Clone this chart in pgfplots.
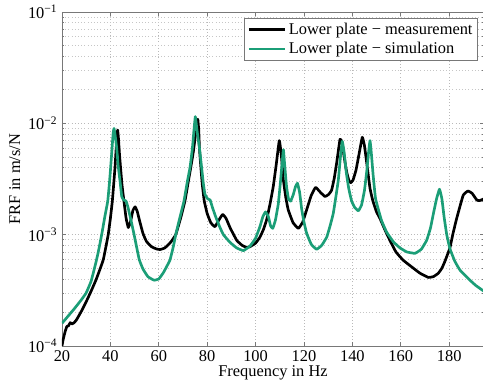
\documentclass[border=0pt]{standalone}
\usepackage{fontspec}
\setmainfont{Liberation Serif}
\usepackage{pgfplots}
\pgfplotsset{compat=1.18}
\definecolor{simgreen}{RGB}{27,158,119}
\definecolor{axgray}{RGB}{120,120,120}
\begin{document}
\begin{tikzpicture}[font=\fontsize{12.3}{14}\selectfont]
\begin{axis}[
  scale only axis,
  width=316.5pt, height=250.5pt,
  xmin=20, xmax=194.4,
  ymode=log, ymin=1e-4, ymax=1e-1,
  xtick={20,40,...,180},
  ytick={1e-4,1e-3,1e-2,1e-1},
  yticklabels={10\textsuperscript{−4},10\textsuperscript{−3},10\textsuperscript{−2},10\textsuperscript{−1}},
  minor ytick={2e-4,3e-4,4e-4,5e-4,6e-4,7e-4,8e-4,9e-4,2e-3,3e-3,4e-3,5e-3,6e-3,7e-3,8e-3,9e-3,2e-2,3e-2,4e-2,5e-2,6e-2,7e-2,8e-2,9e-2},
  /pgf/number format/assume math mode=true,
  grid=both,
  major grid style={dotted, line width=0.5pt, gray!55},
  minor grid style={dotted, line width=0.5pt, gray!45},
  tick align=inside,
  major tick length=3pt, minor tick length=1.5pt,
  axis line style={axgray, line width=0.7pt},
  every tick/.style={axgray, line width=0.5pt},
  xlabel={Frequency in Hz},
  ylabel={FRF in m/s/N},
  xlabel style={yshift=4pt},
  ylabel style={yshift=-1pt},
  legend style={at={(1,1)}, anchor=north east, draw=axgray, line width=0.6pt, fill=white, inner xsep=2pt, inner ysep=1.5pt, row sep=0.5pt, xshift=-4.3pt, yshift=-4.5pt, font=\fontsize{12.3}{14}\selectfont},
  legend cell align=left,
  legend image code/.code={\draw[#1, line width=2pt] (0cm,0cm) -- (0.95cm,0cm);},
]
\addplot[black, line width=2pt, line join=round, smooth, tension=0.2] coordinates {
(20,1.0e-4) (20.5,1.15e-4) (21.3,1.35e-4) (22,1.5e-4) (22.7,1.52e-4) (23.4,1.62e-4) (24.2,1.58e-4)
(25,1.62e-4) (26,1.72e-4) (28,2.05e-4) (30,2.5e-4) (32,3.1e-4) (34,3.9e-4) (36,5.1e-4)
(37.1,6.0e-4) (38,7.5e-4) (39.1,1.0e-3) (40,1.4e-3) (40.8,2.0e-3) (41.4,2.9e-3) (41.9,4.0e-3)
(42.4,6.0e-3) (42.75,8.0e-3) (43.0,8.7e-3) (43.3,7.5e-3) (43.7,5.5e-3) (44.2,4.0e-3)
(44.8,2.8e-3) (45.6,2.0e-3) (46.5,1.4e-3) (47.4,1.16e-3) (48.3,1.3e-3) (49.3,1.65e-3)
(50.2,1.78e-3) (51.1,1.62e-3) (52.2,1.3e-3) (53.5,1.02e-3) (54.9,8.7e-4) (57,7.8e-4)
(59,7.45e-4) (60.5,7.35e-4) (62.5,7.6e-4) (65,8.6e-4) (67,1.0e-3) (69,1.4e-3) (70.8,2.0e-3)
(72.2,3.0e-3) (73.2,4.0e-3) (74.3,5.6e-3) (75.2,8.0e-3) (76.1,1.09e-2) (76.5,8.7e-3)
(76.8,6.0e-3) (77.4,4.0e-3) (78.0,2.8e-3) (78.8,2.0e-3) (80,1.55e-3) (81.5,1.28e-3)
(83.2,1.18e-3) (84.8,1.35e-3) (86.4,1.52e-3) (87.8,1.4e-3) (89.5,1.15e-3) (92.2,8.9e-4)
(94.5,8.0e-4) (96.3,7.7e-4) (97.7,7.8e-4) (100,8.4e-4) (101.8,9.5e-4) (103.3,1.12e-3)
(104.6,1.37e-3) (106,1.9e-3) (107.3,2.7e-3) (108.5,4.2e-3) (109.8,7.0e-3) (110.6,5.3e-3)
(111.5,3.1e-3) (112.5,2.15e-3) (113.5,1.67e-3) (115.5,1.28e-3) (117.7,1.14e-3) (119.5,1.3e-3)
(121.1,1.67e-3) (123,2.25e-3) (124.8,2.66e-3) (126.8,2.4e-3) (128.7,2.2e-3) (130.2,2.3e-3)
(131.4,2.5e-3) (132.5,3.2e-3) (133.5,4.4e-3) (134.9,7.2e-3) (135.7,6.8e-3) (136.6,5.0e-3)
(137.6,3.7e-3) (138.5,3.1e-3) (139.3,2.93e-3) (140.3,3.1e-3) (141.5,3.8e-3) (142.7,5.2e-3)
(144.1,7.5e-3) (145.0,6.3e-3) (146,4.3e-3) (147.3,2.6e-3) (148.5,2.0e-3) (150,1.6e-3)
(151.4,1.4e-3) (153.5,1.1e-3) (155.5,8.9e-4) (158,7.0e-4) (161,5.9e-4) (165.2,5.0e-4)
(168,4.5e-4) (171.4,4.13e-4) (173.5,4.2e-4) (175.5,4.5e-4) (177,5.0e-4) (178.3,5.8e-4)
(180.3,7.6e-4) (181.7,1.05e-3) (183.3,1.45e-3) (185.8,2.26e-3) (187.8,2.47e-3) (189.5,2.35e-3)
(191.4,2.05e-3) (192.5,2.02e-3) (194.4,2.1e-3)
};
\addlegendentry{Lower plate − measurement}
\addplot[simgreen, line width=2pt, line join=round, smooth, tension=0.2] coordinates {
(20,1.6e-4) (22,1.8e-4) (25,2.15e-4) (28,2.6e-4) (30,3.0e-4) (32,3.8e-4) (33,4.6e-4)
(34,5.6e-4) (35,7.0e-4) (36.4,1.0e-3) (37.7,1.45e-3) (38.9,2.0e-3) (39.6,2.9e-3)
(40.1,4.0e-3) (40.7,6.0e-3) (41.1,8.0e-3) (41.5,9.0e-3) (41.9,8.0e-3) (42.6,6.0e-3)
(43.2,4.2e-3) (44.0,3.0e-3) (44.7,2.2e-3) (45.5,2.05e-3) (46.5,2.0e-3) (47.3,1.75e-3)
(48.5,1.35e-3) (49.8,1.0e-3) (51.9,6.0e-4) (53.5,4.9e-4) (55.5,4.2e-4) (58,3.9e-4)
(60,4.0e-4) (62,4.6e-4) (64.6,5.9e-4) (66,7.8e-4) (67,1.0e-3) (68.8,1.45e-3) (70.4,2.0e-3)
(71.8,3.0e-3) (72.9,4.0e-3) (73.9,6.0e-3) (74.5,8.5e-3) (75.1,1.15e-2) (75.7,9.0e-3)
(76.0,8.0e-3) (76.8,6.0e-3) (77.7,4.0e-3) (78.4,2.9e-3) (79.1,2.3e-3) (80.2,2.1e-3)
(81.2,2.05e-3) (82.2,1.75e-3) (83.5,1.45e-3) (85,1.2e-3) (86.7,1.0e-3) (89.5,8.5e-4)
(92.2,7.6e-4) (95,7.2e-4) (97.7,7.9e-4) (100,9.3e-4) (101.8,1.18e-3) (103,1.45e-3)
(104.1,1.6e-3) (105.3,1.45e-3) (106.2,1.2e-3) (107.1,1.14e-3) (108.2,1.35e-3) (109.4,1.9e-3)
(110.3,3.0e-3) (111,4.5e-3) (111.5,5.8e-3) (112,4.3e-3) (112.8,2.7e-3) (113.6,2.1e-3)
(114.5,2.0e-3) (115.6,2.3e-3) (116.5,2.7e-3) (117.3,2.9e-3) (118.2,2.4e-3) (119.1,1.67e-3)
(120,1.3e-3) (121.1,1.03e-3) (123,8.2e-4) (125.2,7.4e-4) (127.3,8.0e-4) (129.4,9.5e-4)
(130.8,1.2e-3) (132.1,1.55e-3) (133.2,2.2e-3) (134.2,3.1e-3) (135,4.8e-3) (135.8,6.9e-3)
(136.6,5.5e-3) (137.5,3.6e-3) (138.5,2.6e-3) (139.7,2.0e-3) (141,1.75e-3) (142.5,1.64e-3)
(143.8,1.85e-3) (145,2.5e-3) (146,3.8e-3) (146.7,5.5e-3) (147.3,7.0e-3) (147.9,5.2e-3)
(148.6,3.4e-3) (149.6,2.1e-3) (152,1.35e-3) (154.2,1.05e-3) (157,8.6e-4) (159.7,7.6e-4)
(162.5,7.0e-4) (165.9,6.8e-4) (168.5,7.4e-4) (170.7,8.9e-4) (172.3,1.15e-3) (173.5,1.55e-3)
(174.8,2.1e-3) (176,2.56e-3) (177,2.1e-3) (177.9,1.45e-3) (179,1.0e-3) (180.3,7.5e-4)
(182.3,5.8e-4) (184.5,4.8e-4) (188.6,3.9e-4) (191,3.5e-4) (194.4,3.1e-4)
};
\addlegendentry{Lower plate − simulation}
\end{axis}
\pgfresetboundingbox
\path[use as bounding box] (-46.5pt,-33pt) rectangle (315.75pt,259.5pt);
\end{tikzpicture}
\end{document}
